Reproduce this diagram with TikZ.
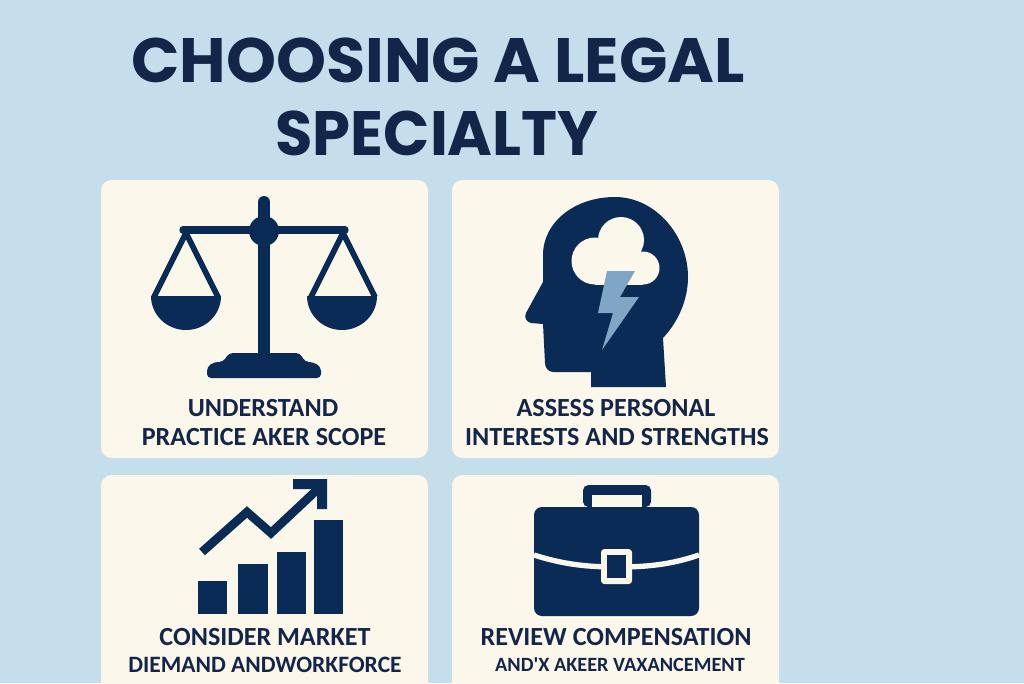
\documentclass[tikz,border=0pt]{standalone}
\usepackage{fontspec}
\setmainfont{Carlito}
\newfontfamily\titlefont{Poppins}
\definecolor{skybg}{HTML}{C5DEEB}
\definecolor{cardbg}{HTML}{FBF7EA}
\definecolor{navy}{HTML}{0A2B55}
\definecolor{inknavy}{HTML}{13264A}
\definecolor{boltblue}{HTML}{7FA6C4}
\begin{document}
\begin{tikzpicture}[x=0.75pt,y=-0.75pt,line join=round,
	card/.style={fill=cardbg,rounded corners=8pt},
	icon/.style={fill=navy},
	hole/.style={fill=cardbg},
	rope/.style={draw=navy,line width=4.3pt},
	heading/.style={text=inknavy,font=\titlefont\bfseries\fontsize{47}{47}\selectfont},
	label/.style={text=inknavy,font=\bfseries\fontsize{19.6}{19.6}\selectfont}]
	\fill[skybg] (0,0) rectangle (1024,683);
	\useasboundingbox (0,0) rectangle (1024,683);
	\clip (0,0) rectangle (1024,683);
	% title
	\node[heading,xscale=1.015] (titleone) at (438,60) {CHOOSING A LEGAL};
	\node[heading,xscale=0.97] (titletwo) at (437,133) {SPECIALTY};
	% cards
	\fill[card] (101,180) rectangle (428,458);
	\fill[card] (452,180) rectangle (779,458);
	\fill[card] (101,475) rectangle (428,710);
	\fill[card] (452,475) rectangle (779,710);
	% scales
	\draw[navy,line width=9pt,line cap=round] (264,202)--(264,230);
	\fill[icon] (258,230) rectangle (270,355);
	\draw[navy,line width=5.5pt,line cap=round] (183,230)--(345,230);
	\fill[icon] (264,231) circle (15);
	\draw[rope] (186,233)--(154,297) (186,233)--(218,297);
	\draw[rope] (343,233)--(311,297) (343,233)--(375,297);
	\fill[icon] (151,296) arc[start angle=180,end angle=360,x radius=35,y radius=-34] --cycle;
	\fill[icon] (307,296) arc[start angle=180,end angle=360,x radius=35,y radius=-34] --cycle;
	\fill[icon,rounded corners=3pt] (207,378)--(207,367)--(214,362)--(223,362)--(229,353)--(300,353)--(305,362)--(313,362)--(321,367)--(321,378)--cycle;
	% head
	\fill[icon] (591,387)--(591,372)--(553,372) to[out=180,in=-90] (545,363)--(543,324)
		--(531,323) .. controls (526,322) and (524,317) .. (526,313)
		--(543,282)--(543,255) .. controls (543,222) and (575,197) .. (615,197)
		.. controls (655,197) and (688,235) .. (688,277) .. controls (688,300) and (678,322) .. (663,338)
		--(666,387)--cycle;
	\fill[hole] (595,261) circle (23.5) (621,240) circle (23) (643,268) circle (16.5);
	\fill[hole] (595,262) rectangle (643,284.5);
	\fill[boltblue] (607,271)--(635,271)--(620,297)--(639,297)--(602,350)--(613,313)--(598,313)--cycle;
	% chart
	\fill[icon] (198,581) rectangle (227,614);
	\fill[icon] (238,564) rectangle (268,614);
	\fill[icon] (277,552) rectangle (306,614);
	\fill[icon] (314,520) rectangle (343,614);
	\draw[navy,line width=6.5pt,line join=miter] (202,552)--(247,512)--(271,533)--(320,487);
	\fill[icon] (293,479)--(327,479)--(327,509)--(317,509)--(317,489)--(293,489)--cycle;
	% briefcase
	\fill[icon,rounded corners=4pt] (583,507)--(583,485)--(651,485)--(651,507)--cycle;
	\fill[hole] (592,495) rectangle (642,507);
	\fill[icon,rounded corners=6pt] (534,507) rectangle (699,616);
	\draw[cardbg,line width=4pt] (534,555) .. controls (565,565) and (590,567) .. (617,567) .. controls (645,567) and (670,565) .. (699,555);
	\fill[hole,rounded corners=2.5pt] (601,549) rectangle (632,584);
	\fill[icon] (607,555) rectangle (626,578);
	% labels
	\node[label] (scopeone) at (263,408) {UNDERSTAND};
	\node[label] (scopetwo) at (264,437) {PRACTICE AKER SCOPE};
	\node[label] (assessone) at (616,408) {ASSESS PERSONAL};
	\node[label] (assesstwo) at (617,437) {INTERESTS AND STRENGTHS};
	\node[label] (marketone) at (265,637) {CONSIDER MARKET};
	\node[label,font=\bfseries\fontsize{17.6}{17.6}\selectfont] (markettwo) at (265,665) {DIEMAND ANDWORKFORCE};
	\node[label] (reviewone) at (616,637) {REVIEW COMPENSATION};
	\node[label,font=\bfseries\fontsize{15.2}{15.2}\selectfont] (reviewtwo) at (620,665) {AND\textquotesingle X AKEER VAXANCEMENT};
\end{tikzpicture}
\end{document}
